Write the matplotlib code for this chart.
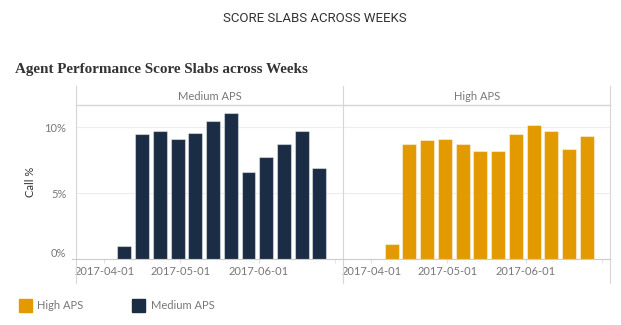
import numpy as np
import pandas as pd
import matplotlib
matplotlib.use('Agg')
import matplotlib.pyplot as plt
import matplotlib.dates as mdates
from matplotlib.lines import Line2D
from matplotlib.patches import Rectangle

# 数据
weeks = pd.date_range('2017-04-09', periods=12, freq='7D')
medium_aps = [1.0, 9.45, 9.7, 9.07, 9.57, 10.43, 11.06, 6.57, 7.7, 8.71, 9.7, 6.87]
high_aps = [1.12, 8.74, 9.02, 9.09, 8.74, 8.16, 8.16, 9.44, 10.15, 9.7, 8.31, 9.34]
panels = ['Medium APS', 'High APS']
colors = {'Medium APS': '#1b2d45', 'High APS': '#e39a00'}
values = {'Medium APS': medium_aps, 'High APS': high_aps}
tick_dates = pd.to_datetime(['2017-04-01', '2017-05-01', '2017-06-01'])
yticks = [0, 5, 10]

W, H = 621, 325
plt.rcParams['font.family'] = ['Lato', 'DejaVu Sans']
fig = plt.figure(figsize=(W / 100, H / 100), dpi=100)

def fx(px):
    return px / W

def fy(py):
    return 1 - py / H

grey = '#d6d6d6'
txt = '#777777'

fig.text(fx(315), fy(18), 'SCORE SLABS ACROSS WEEKS', ha='center', va='center',
         fontsize=9.5, color='#333333', family=['Roboto', 'DejaVu Sans'])
fig.text(fx(15), fy(70), 'Agent Performance Score Slabs across Weeks', ha='left', va='center',
         fontsize=10.9, fontweight='bold', color='#333333', family='Liberation Serif')

x0 = mdates.date2num(pd.Timestamp('2017-04-01'))
lefts = [76, 343.3]
pw = 267
for i, name in enumerate(panels):
    ax = fig.add_axes([fx(lefts[i]), fy(259), pw / W, (259 - 105) / H])
    ax.bar(weeks, values[name], width=5.5, color=colors[name],
           edgecolor=(1, 1, 1, 0.45), linewidth=0.8, zorder=3)
    ax.set_xlim(x0 - 11.1, x0 + 94.3)
    ax.set_ylim(0, 11.67)
    for s in ax.spines.values():
        s.set_visible(False)
    ax.set_yticks(yticks)
    ax.yaxis.grid(True, color='#ededed', linewidth=0.8, zorder=0)
    ax.tick_params(axis='y', length=0, labelsize=8, labelcolor=txt, pad=7)
    if i == 0:
        ax.set_yticklabels([f'{v}%' for v in yticks])
        ax.get_yticklabels()[0].set_verticalalignment('bottom')
        ax.set_ylabel('Call %', fontsize=8, color='#333333', labelpad=6)
    else:
        ax.set_yticklabels([])
    ax.set_xticks(mdates.date2num(tick_dates))
    ax.set_xticklabels([d.strftime('%Y-%m-%d') for d in tick_dates])
    ax.set_xticks([mdates.date2num(pd.Timestamp('2017-07-01'))], minor=True)
    ax.tick_params(axis='x', which='both', length=3, color='#e0e0e0', labelsize=8,
                   labelcolor=txt, pad=2)
    fig.text(fx(lefts[i] + pw / 2), fy(96), name, ha='center', va='center',
             fontsize=8, color=txt)

# 分隔线
for xp in [76, 343.3, 610]:
    fig.add_artist(Line2D([fx(xp), fx(xp)], [fy(86), fy(283)], color=grey, linewidth=0.8))
fig.add_artist(Line2D([fx(76), fx(610)], [fy(105), fy(105)], color=grey, linewidth=1))
fig.add_artist(Line2D([fx(72), fx(610)], [fy(259), fy(259)], color='#cccccc', linewidth=0.8))

# 图例
for name, xs, xt in [('High APS', 19, 37), ('Medium APS', 132, 151)]:
    fig.add_artist(Rectangle((fx(xs), fy(312)), 13 / W, 13 / H, color=colors[name],
                             transform=fig.transFigure))
    fig.text(fx(xt), fy(305.5), name, ha='left', va='center', fontsize=8, color=txt)

fig.savefig('out.png', dpi=100)
